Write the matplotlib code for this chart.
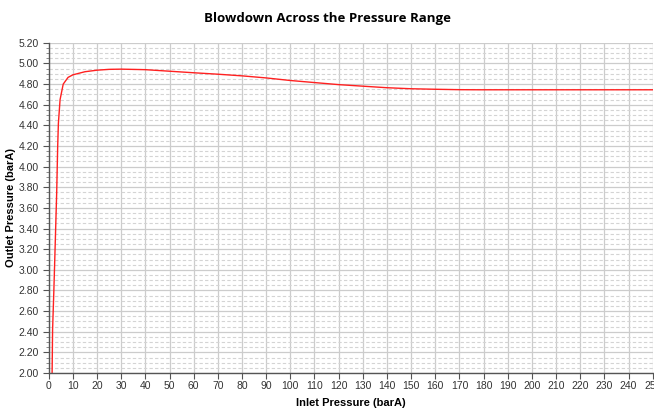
import matplotlib
matplotlib.use("Agg")
import matplotlib.pyplot as plt
from matplotlib.ticker import MultipleLocator

# inlet pressure (barA) vs outlet pressure (barA)
inlet = [1.4, 1.6, 2.1, 2.5, 3.3, 3.7, 4.0, 4.7, 6, 8, 10, 15, 20, 25, 30,
         40, 50, 60, 70, 80, 90, 100, 110, 120, 130, 140, 150, 160, 170, 178, 250]
outlet = [2.00, 2.42, 2.78, 3.10, 3.75, 4.19, 4.42, 4.65, 4.80, 4.865, 4.89, 4.92,
          4.935, 4.943, 4.945, 4.94, 4.925, 4.91, 4.896, 4.88, 4.86, 4.835, 4.815,
          4.795, 4.78, 4.765, 4.755, 4.75, 4.746, 4.745, 4.745]

fig = plt.figure(figsize=(6.54, 4.08), dpi=100)
ax = fig.add_axes([0.0745, 0.0858, 0.9235, 0.8092])

ax.plot(inlet, outlet, color="#ff2020", lw=1.0)

ax.set_xlim(0, 250)
ax.set_ylim(2.0, 5.2)
ax.xaxis.set_major_locator(MultipleLocator(10))
ax.yaxis.set_major_locator(MultipleLocator(0.2))
ax.yaxis.set_minor_locator(MultipleLocator(0.05))
ax.yaxis.set_major_formatter(lambda v, p: f"{v:.2f}")

ax.grid(which="major", color="#cccccc", lw=0.9, ls="-")
ax.grid(which="minor", axis="y", color="#d4d4d4", lw=0.8, ls=(0, (3, 2)))
ax.set_axisbelow(True)

for s in ("top", "right"):
    ax.spines[s].set_visible(False)
for s in ("left", "bottom"):
    ax.spines[s].set_color("#555555")
    ax.spines[s].set_linewidth(1.0)

ax.tick_params(which="major", length=4, color="#555555", labelsize=7.5,
               labelcolor="#333333", pad=3)
ax.tick_params(axis="x", which="major", pad=1.5)
ax.tick_params(which="minor", length=2, color="#777777")
for lab in ax.get_xticklabels() + ax.get_yticklabels():
    lab.set_family("Liberation Sans")

ax.set_xlabel("Inlet Pressure (barA)", family="Liberation Sans", fontsize=8,
              fontweight="bold", va="center")
ax.set_ylabel("Outlet Pressure (barA)", family="Liberation Sans", fontsize=8,
              fontweight="bold", va="center")
ax.xaxis.set_label_coords(0.5, -0.091)
ax.yaxis.set_label_coords(-0.062, 0.5)
fig.text(0.5, 0.955, "Blowdown Across the Pressure Range", ha="center", va="center",
         family="Open Sans", fontsize=9.5, fontweight="bold")

fig.savefig("out.png", dpi=100)
